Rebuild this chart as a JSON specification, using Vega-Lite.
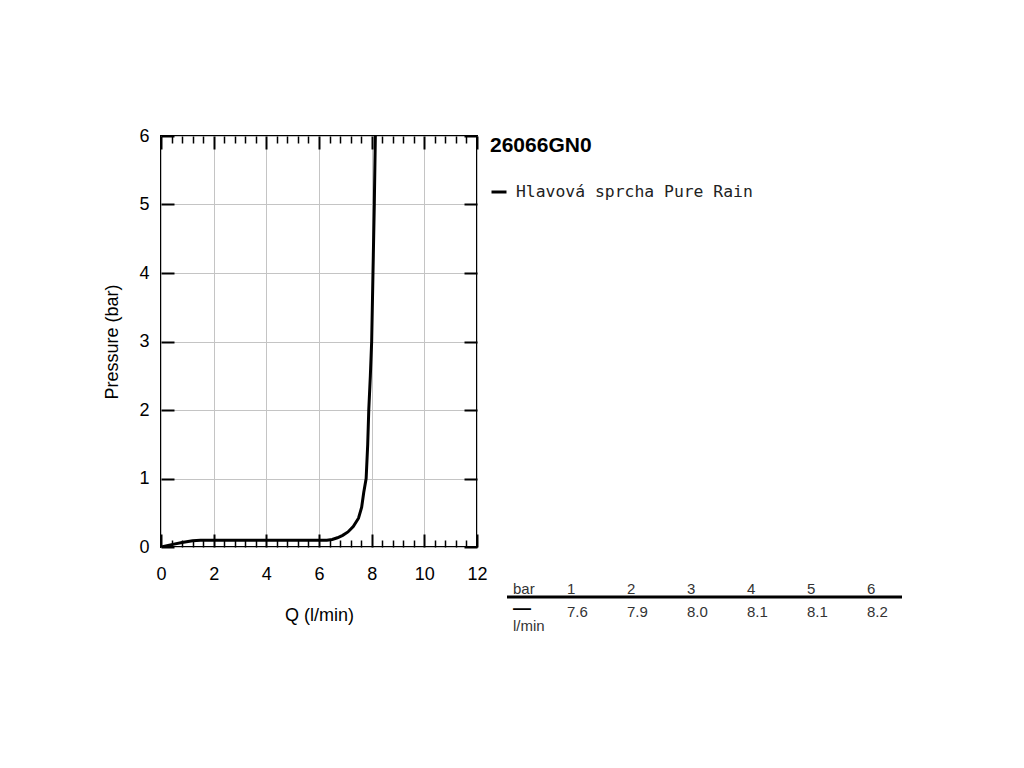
{
  "$schema": "https://vega.github.io/schema/vega-lite/v6.json",
  "background": "white",
  "padding": {"left": 102, "top": 126, "right": 0, "bottom": 0},
  "spacing": 16,
  "config": {
    "view": {"stroke": null},
    "font": "Liberation Sans",
    "axis": {"labelFont": "Liberation Sans", "titleFont": "Liberation Sans", "labelColor": "black", "titleColor": "black", "titleFontWeight": "normal"}
  },
  "hconcat": [
    {
      "width": 316,
      "height": 411,
      "view": {"stroke": "black", "strokeWidth": 2},
      "data": {
        "values": [
          {"q": 0, "p": 0, "series": "Hlavová sprcha Pure Rain"},
          {"q": 0.4, "p": 0.035, "series": "Hlavová sprcha Pure Rain"},
          {"q": 0.8, "p": 0.066, "series": "Hlavová sprcha Pure Rain"},
          {"q": 1.2, "p": 0.092, "series": "Hlavová sprcha Pure Rain"},
          {"q": 1.5, "p": 0.1, "series": "Hlavová sprcha Pure Rain"},
          {"q": 6.3, "p": 0.1, "series": "Hlavová sprcha Pure Rain"},
          {"q": 6.5, "p": 0.11, "series": "Hlavová sprcha Pure Rain"},
          {"q": 6.7, "p": 0.135, "series": "Hlavová sprcha Pure Rain"},
          {"q": 6.9, "p": 0.17, "series": "Hlavová sprcha Pure Rain"},
          {"q": 7.1, "p": 0.22, "series": "Hlavová sprcha Pure Rain"},
          {"q": 7.3, "p": 0.3, "series": "Hlavová sprcha Pure Rain"},
          {"q": 7.5, "p": 0.42, "series": "Hlavová sprcha Pure Rain"},
          {"q": 7.62, "p": 0.58, "series": "Hlavová sprcha Pure Rain"},
          {"q": 7.7, "p": 0.8, "series": "Hlavová sprcha Pure Rain"},
          {"q": 7.79, "p": 1.0, "series": "Hlavová sprcha Pure Rain"},
          {"q": 7.85, "p": 1.5, "series": "Hlavová sprcha Pure Rain"},
          {"q": 7.89, "p": 2.0, "series": "Hlavová sprcha Pure Rain"},
          {"q": 7.95, "p": 2.5, "series": "Hlavová sprcha Pure Rain"},
          {"q": 8.0, "p": 3.0, "series": "Hlavová sprcha Pure Rain"},
          {"q": 8.05, "p": 4.0, "series": "Hlavová sprcha Pure Rain"},
          {"q": 8.1, "p": 5.0, "series": "Hlavová sprcha Pure Rain"},
          {"q": 8.14, "p": 6.0, "series": "Hlavová sprcha Pure Rain"}
        ]
      },
      "layer": [
        {
          "mark": {"type": "line", "strokeWidth": 3, "clip": true},
          "encoding": {
            "x": {
              "field": "q", "type": "quantitative",
              "scale": {"domain": [0, 12], "nice": false, "zero": false},
              "axis": {
                "orient": "bottom",
                "values": [0, 0.4, 0.8, 1.2, 1.6, 2, 2.4, 2.8, 3.2, 3.6, 4, 4.4, 4.8, 5.2, 5.6, 6, 6.4, 6.8, 7.2, 7.6, 8, 8.4, 8.8, 9.2, 9.6, 10, 10.4, 10.8, 11.2, 11.6, 12],
                "tickSize": {"condition": {"test": "datum.value % 2 === 0", "value": -13}, "value": -7},
                "tickWidth": {"condition": {"test": "datum.value % 2 === 0", "value": 2}, "value": 1.5},
                "tickColor": "black",
                "labelExpr": "datum.value % 2 === 0 ? format(datum.value, 'd') : ''",
                "labelFontSize": 18,
                "labelPadding": 31,
                "labelOverlap": false,
                "labelFlush": false,
                "labelBound": false,
                "domain": false,
                "grid": true,
                "gridColor": "#c4c4c4",
                "gridWidth": 1,
                "gridOpacity": {"condition": {"test": "datum.value % 2 === 0", "value": 1}, "value": 0},
                "title": "Q (l/min)",
                "titleFontSize": 18,
                "titlePadding": 17
              }
            },
            "y": {
              "field": "p", "type": "quantitative",
              "scale": {"domain": [0, 6], "nice": false},
              "axis": {
                "orient": "left",
                "values": [0, 1, 2, 3, 4, 5, 6],
                "tickSize": -13,
                "tickWidth": 2,
                "tickColor": "black",
                "labelFontSize": 18,
                "labelPadding": 25,
                "labelFlush": false,
                "labelBound": false,
                "domain": false,
                "grid": true,
                "gridColor": "#c4c4c4",
                "gridWidth": 1,
                "title": "Pressure (bar)",
                "titleFontSize": 18,
                "titlePadding": 17
              }
            },
            "color": {
              "field": "series", "type": "nominal",
              "scale": {"range": ["black"]},
              "legend": {
                "orient": "none",
                "legendX": 329,
                "legendY": -1,
                "padding": 0,
                "title": "26066GN0",
                "titleFont": "Liberation Sans",
                "titleFontSize": 21,
                "titleFontWeight": "bold",
                "titleColor": "black",
                "titlePadding": 27,
                "labelFont": "DejaVu Sans Mono",
                "labelFontSize": 16.4,
                "labelColor": "#222222",
                "labelOffset": 8,
                "labelLimit": 500,
                "symbolType": "stroke",
                "symbolStrokeWidth": 3,
                "symbolSize": 225,
                "symbolStrokeColor": "black"
              }
            }
          }
        },
        {
          "mark": {"type": "line", "strokeOpacity": 0},
          "encoding": {
            "x": {
              "field": "q", "type": "quantitative",
              "axis": {
                "orient": "top",
                "values": [0, 0.4, 0.8, 1.2, 1.6, 2, 2.4, 2.8, 3.2, 3.6, 4, 4.4, 4.8, 5.2, 5.6, 6, 6.4, 6.8, 7.2, 7.6, 8, 8.4, 8.8, 9.2, 9.6, 10, 10.4, 10.8, 11.2, 11.6, 12],
                "tickSize": {"condition": {"test": "datum.value % 2 === 0", "value": -13}, "value": -7},
                "tickWidth": {"condition": {"test": "datum.value % 2 === 0", "value": 2}, "value": 1.5},
                "tickColor": "black",
                "labels": false,
                "domain": false,
                "grid": false,
                "title": null
              }
            },
            "y": {
              "field": "p", "type": "quantitative",
              "axis": {
                "orient": "right",
                "values": [0, 1, 2, 3, 4, 5, 6],
                "tickSize": -13,
                "tickWidth": 2,
                "tickColor": "black",
                "labels": false,
                "domain": false,
                "grid": false,
                "title": null
              }
            }
          }
        }
      ],
      "resolve": {"axis": {"x": "independent", "y": "independent"}}
    },
    {
      "width": 395,
      "height": 506,
      "layer": [
        {
          "data": {"values": [{"row": "head"}]},
          "mark": {"type": "rule", "strokeWidth": 3, "color": "black"},
          "encoding": {
            "y": {"field": "row", "type": "nominal", "scale": {"type": "point", "domain": ["head", "value", "unit"], "range": [461, 490], "padding": 0}, "axis": null}
          }
        },
        {
          "data": {"values": [
            {"row": "head", "col": "bar", "text": "bar"}
          ]},
          "mark": {"type": "text", "align": "left", "baseline": "alphabetic", "dx": 6, "dy": -3, "fontSize": 15, "font": "Liberation Sans", "color": "#333333"},
          "encoding": {
            "x": {"field": "col", "type": "nominal", "scale": {"type": "point", "domain": ["bar", "1", "2", "3", "4", "5", "6"], "range": [0, 360], "padding": 0}, "axis": null},
            "y": {"field": "row", "type": "nominal", "axis": null},
            "text": {"field": "text"}
          }
        },
        {
          "data": {"values": [
            {"row": "head", "col": "1", "text": "1"},
            {"row": "head", "col": "2", "text": "2"},
            {"row": "head", "col": "3", "text": "3"},
            {"row": "head", "col": "4", "text": "4"},
            {"row": "head", "col": "5", "text": "5"},
            {"row": "head", "col": "6", "text": "6"}
          ]},
          "mark": {"type": "text", "align": "left", "baseline": "alphabetic", "dy": -3, "fontSize": 15, "font": "Liberation Sans", "color": "#333333"},
          "encoding": {
            "x": {"field": "col", "type": "nominal", "axis": null},
            "y": {"field": "row", "type": "nominal", "axis": null},
            "text": {"field": "text"}
          }
        },
        {
          "data": {"values": [
            {"row": "value", "col": "1", "text": "7.6"},
            {"row": "value", "col": "2", "text": "7.9"},
            {"row": "value", "col": "3", "text": "8.0"},
            {"row": "value", "col": "4", "text": "8.1"},
            {"row": "value", "col": "5", "text": "8.1"},
            {"row": "value", "col": "6", "text": "8.2"}
          ]},
          "mark": {"type": "text", "align": "left", "baseline": "middle", "fontSize": 15, "font": "Liberation Sans", "color": "#333333"},
          "encoding": {
            "x": {"field": "col", "type": "nominal", "axis": null},
            "y": {"field": "row", "type": "nominal", "axis": null},
            "text": {"field": "text"}
          }
        },
        {
          "data": {"values": [
            {"row": "value", "col": "bar", "text": "—"}
          ]},
          "mark": {"type": "text", "align": "left", "baseline": "middle", "dx": 6, "dy": -3, "fontSize": 18, "fontWeight": "bold", "font": "Liberation Sans", "color": "black"},
          "encoding": {
            "x": {"field": "col", "type": "nominal", "axis": null},
            "y": {"field": "row", "type": "nominal", "axis": null},
            "text": {"field": "text"}
          }
        },
        {
          "data": {"values": [
            {"row": "unit", "col": "bar", "text": "l/min"}
          ]},
          "mark": {"type": "text", "align": "left", "baseline": "middle", "dx": 6, "fontSize": 15, "font": "Liberation Sans", "color": "#333333"},
          "encoding": {
            "x": {"field": "col", "type": "nominal", "axis": null},
            "y": {"field": "row", "type": "nominal", "axis": null},
            "text": {"field": "text"}
          }
        }
      ]
    }
  ]
}
